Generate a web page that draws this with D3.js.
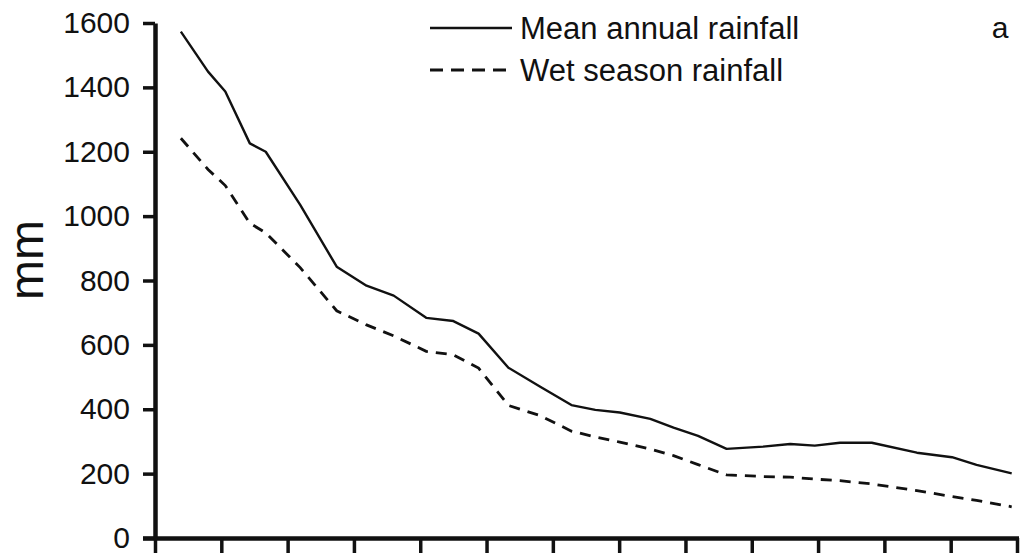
<!DOCTYPE html>
<html>
<head>
<meta charset="utf-8">
<script src="https://cdn.jsdelivr.net/npm/d3@7"></script>
<style>
  html, body { margin: 0; padding: 0; background: #fff; }
  svg { display: block; }
  text { font-family: "Liberation Sans", Arial, Helvetica, sans-serif; fill: #111; }
  .axis .domain { stroke: #111; stroke-width: 4.5px; }
  .axis .tick line { stroke: #111; stroke-width: 3.5px; }
</style>
</head>
<body>
<svg id="chart" width="1023" height="556"></svg>
<script>
// Station positions along the transect (axis tick units)
const stations = [0.39, 0.80, 1.06, 1.43, 1.67, 2.19, 2.74, 3.19, 3.60, 4.09,
                  4.50, 4.88, 5.33, 5.81, 6.28, 6.64, 7.01, 7.47, 7.82, 8.19,
                  8.62, 9.17, 9.58, 9.95, 10.33, 10.81, 11.49, 12.02, 12.39, 12.92];

// Mean annual rainfall (mm)
const meanAnnual = [1573, 1449, 1387, 1226, 1200, 1035, 843, 784, 753, 684,
                    674, 635, 529, 470, 413, 398, 390, 370, 343, 317,
                    277, 284, 292, 287, 296, 296, 265, 251, 227, 201];

// Wet season rainfall (mm)
const wetSeason = [1242, 1145, 1095, 978, 948, 840, 706, 662, 628, 580,
                   569, 528, 412, 380, 332, 314, 298, 276, 256, 228,
                   196, 191, 189, 183, 178, 168, 147, 129, 117, 97];

const yTicks = [0, 200, 400, 600, 800, 1000, 1200, 1400, 1600];
const xTicks = d3.range(0, 14);

const seriesNames = ["Mean annual rainfall", "Wet season rainfall"];
const yLabel = "mm";
const panelLabel = "a";

const svg = d3.select("#chart");

const x = d3.scaleLinear().domain([0, 13]).range([155, 1017]);
const y = d3.scaleLinear().domain([0, 1600]).range([538, 23]);

// Y axis
const yAxis = svg.append("g")
  .attr("class", "axis")
  .attr("transform", `translate(${x(0)},0)`)
  .call(d3.axisLeft(y).tickValues(yTicks).tickFormat(d3.format("d"))
    .tickSize(12).tickSizeOuter(0).tickPadding(13));
yAxis.selectAll(".tick text")
  .style("font-size", "30px")
  .style("fill", "#111");

// X axis (ticks only, no labels)
const xAxis = svg.append("g")
  .attr("class", "axis")
  .attr("transform", `translate(0,${y(0)})`)
  .call(d3.axisBottom(x).tickValues(xTicks).tickSize(15).tickSizeOuter(0).tickFormat(""));
xAxis.select(".domain").attr("d", `M${x(0) - 12},0.5H${x(13) + 2}`);

// Lines
const line = d3.line()
  .x(d => x(d[0]))
  .y(d => y(d[1]));

svg.append("path")
  .datum(d3.zip(stations, meanAnnual))
  .attr("d", line)
  .style("fill", "none")
  .style("stroke", "#111")
  .style("stroke-width", "2.4px")
  .style("stroke-linejoin", "round");

svg.append("path")
  .datum(d3.zip(stations, wetSeason))
  .attr("d", line)
  .style("fill", "none")
  .style("stroke", "#111")
  .style("stroke-width", "2.8px")
  .style("stroke-dasharray", "11,8");

// Y-axis title
svg.append("text")
  .attr("transform", "translate(43,260) rotate(-90)")
  .attr("text-anchor", "middle")
  .style("font-size", "48px")
  .text(yLabel);

// Legend
const legend = svg.append("g");
const legendRows = [
  { name: seriesNames[0], dash: null, yy: 28 },
  { name: seriesNames[1], dash: "13,8", yy: 70 }
];
legendRows.forEach(r => {
  const ln = legend.append("line")
    .attr("x1", 430).attr("x2", r.dash ? 507 : 512)
    .attr("y1", r.yy).attr("y2", r.yy)
    .style("stroke", "#111")
    .style("stroke-width", r.dash ? "2.8px" : "2.4px");
  if (r.dash) ln.style("stroke-dasharray", r.dash);
  legend.append("text")
    .attr("x", 520).attr("y", r.yy)
    .attr("dy", "0.35em")
    .style("font-size", "31px")
    .text(r.name);
});

// Panel label
svg.append("text")
  .attr("x", 1000).attr("y", 27)
  .attr("dy", "0.35em")
  .attr("text-anchor", "middle")
  .style("font-size", "30px")
  .text(panelLabel);
</script>
</body>
</html>
